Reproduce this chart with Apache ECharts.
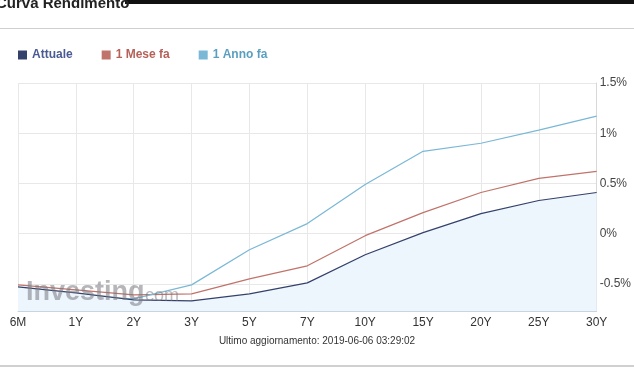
<!DOCTYPE html>
<html><head><meta charset="utf-8">
<script src="https://cdn.jsdelivr.net/npm/echarts@6/dist/echarts.min.js"></script>
<style>html,body{margin:0;padding:0;background:#fff}#c{width:634px;height:370px}</style>
</head><body><div id="c"></div>
<script>
const categories = ['6M','1Y','2Y','3Y','5Y','7Y','10Y','15Y','20Y','25Y','30Y'];
const attuale = [-0.53,-0.59,-0.66,-0.67,-0.60,-0.49,-0.21,0.01,0.20,0.33,0.41];
const meseFa  = [-0.51,-0.56,-0.61,-0.60,-0.45,-0.32,-0.02,0.21,0.41,0.55,0.62];
const annoFa  = [-0.60,-0.63,-0.65,-0.51,-0.16,0.10,0.49,0.82,0.90,1.03,1.17];
const yMin = -0.77, yMax = 1.5;
const colors = ['#34416b','#c0736a','#7ab8d6'];
const font = 'Liberation Sans, Arial, sans-serif';
const chart = echarts.init(document.getElementById('c'));
chart.setOption({
  animation:false,
  textStyle:{fontFamily:font},
  legend:{left:13, top:44, icon:'rect', itemWidth:9, itemHeight:9, itemGap:29,
    data:[
      {name:'Attuale', textStyle:{color:'#4a5a92'}},
      {name:'1 Mese fa', textStyle:{color:'#b5615a'}},
      {name:'1 Anno fa', textStyle:{color:'#5a9fc0'}}
    ],
    textStyle:{fontSize:12, fontWeight:'bold', fontFamily:font}},
  grid:{left:18, right:37, top:83, bottom:59},
  xAxis:{type:'category', data:categories, boundaryGap:false,
    axisLine:{show:true, onZero:false, lineStyle:{color:'#c8d4e0'}}, axisTick:{show:false},
    axisLabel:{color:'#333', fontSize:12, margin:6},
    splitLine:{show:true, lineStyle:{color:'#e8e8e8'}}},
  yAxis:{type:'value', position:'right', min:yMin, max:yMax, splitNumber:5,
    axisLine:{show:true, lineStyle:{color:'#d8d8d8'}}, axisTick:{show:false},
    axisLabel:{color:'#444', fontSize:12, margin:3, showMinLabel:false,
      formatter:v=>{ if (Math.abs(v*2-Math.round(v*2))>1e-6) return ''; return (Math.round(v*10)/10)+'%'; }},
    splitLine:{show:true, lineStyle:{color:'#e8e8e8'}}},
  series:[
    {name:'Attuale', type:'line', data:attuale, symbol:'none', z:3,
      lineStyle:{color:colors[0], width:1.2}, itemStyle:{color:colors[0]},
      areaStyle:{color:'#edf5fd', opacity:1, origin:'start'}},
    {name:'1 Mese fa', type:'line', data:meseFa, symbol:'none', z:2,
      lineStyle:{color:colors[1], width:1.2}, itemStyle:{color:colors[1]}},
    {name:'1 Anno fa', type:'line', data:annoFa, symbol:'none', z:2,
      lineStyle:{color:colors[2], width:1.2}, itemStyle:{color:colors[2]}}
  ],
  graphic:[
    {type:'rect', shape:{x:125,y:0,width:509,height:4}, style:{fill:'#111'}},
    {type:'text', left:-4, top:-4, style:{text:'Curva Rendimento', font:'bold 15px '+font, fill:'#222'}},
    {type:'rect', shape:{x:0,y:28,width:634,height:1}, style:{fill:'#cfcfcf'}},
    {type:'rect', shape:{x:0,y:365,width:634,height:2}, style:{fill:'#d0d0d0'}},
    {type:'text', left:'center', top:336, style:{text:'Ultimo aggiornamento: 2019-06-06 03:29:02', font:'10px '+font, fill:'#333'}},
    {type:'text', left:26, top:279, z:10, style:{text:'Investing', font:'bold 27px '+font, fill:'rgba(120,120,130,0.55)'}},
    {type:'text', left:140, top:287, z:10, style:{text:'.com', font:'18px '+font, fill:'rgba(120,120,130,0.5)'}}
  ]
});
</script></body></html>
